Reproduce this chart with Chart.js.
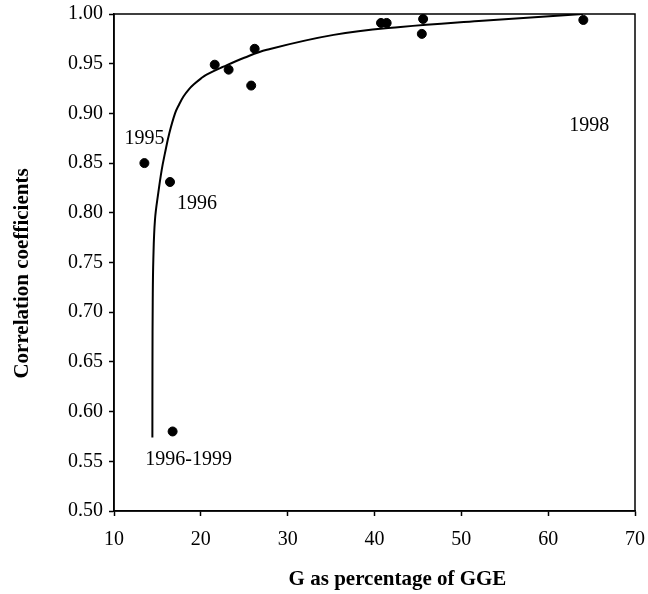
<!DOCTYPE html>
<html>
<head>
<meta charset="utf-8">
<script src="https://cdn.jsdelivr.net/npm/chart.js@4"></script>
<style>
  body { margin: 0; background: #fff; }
  #wrap { width: 648px; height: 594px; }
</style>
</head>
<body>
<div id="wrap"><canvas id="corrChart" width="648" height="594"></canvas></div>
<script>
// observed points (G as % of GGE, correlation coefficient)
const pointsX = [13.5, 16.45, 21.6, 23.2, 25.8, 26.2, 40.75, 41.4, 45.6, 45.45, 64.05, 16.75];
const pointsY = [0.850, 0.831, 0.949, 0.944, 0.928, 0.965, 0.991, 0.991, 0.995, 0.980, 0.994, 0.580];

// fitted curve
const curveX = [14.42, 14.43, 14.46, 14.53, 14.72, 15.1, 15.49, 15.87, 16.37, 17.03, 17.5, 18.0, 18.6, 19.3, 20.0, 20.66, 22.6, 25.0, 27.6, 35.3, 43.0, 52.0, 64.0];
const curveY = [0.574, 0.650, 0.710, 0.753, 0.793, 0.820, 0.843, 0.860, 0.880, 0.900, 0.909, 0.917, 0.924, 0.930, 0.935, 0.939, 0.947, 0.956, 0.964, 0.979, 0.987, 0.993, 1.000];

// year labels and the point each one belongs to
const yearLabels = ['1995', '1996', '1996-1999', '1998'];
const labelPoint = [0, 1, 11, 10];
const labelOffset = [[0, -24], [27, 22], [16, 28], [6, 106]]; // px from the point

const xTitle = 'G as percentage of GGE';
const yTitle = 'Correlation coefficients';

const serif = "'Liberation Serif', 'Times New Roman', serif";

const frame = {
  id: 'frame',
  afterDraw(chart) {
    const { ctx, chartArea: a, scales } = chart;
    ctx.save();
    ctx.strokeStyle = '#000';
    ctx.lineWidth = 1.5;
    ctx.strokeRect(a.left, a.top, a.right - a.left, a.bottom - a.top);
    ctx.fillStyle = '#000';
    ctx.font = '20px ' + serif;
    ctx.textAlign = 'center';
    ctx.textBaseline = 'middle';
    yearLabels.forEach((t, i) => {
      const k = labelPoint[i];
      const x = scales.x.getPixelForValue(pointsX[k]) + labelOffset[i][0];
      const y = scales.y.getPixelForValue(pointsY[k]) + labelOffset[i][1];
      ctx.fillText(t, x, y);
    });
    // axis titles sit a little off-centre in the original
    ctx.font = 'bold 21px ' + serif;
    ctx.fillText(xTitle, (a.left + a.right) / 2 + 23, 580);
    ctx.translate(23, (a.top + a.bottom) / 2 + 11);
    ctx.rotate(-Math.PI / 2);
    ctx.fillText(yTitle, 0, 0);
    ctx.restore();
  }
};

new Chart(document.getElementById('corrChart'), {
  type: 'scatter',
  data: {
    datasets: [
      {
        label: 'fit',
        data: curveX.map((x, i) => ({ x, y: curveY[i] })),
        showLine: true,
        borderColor: '#000',
        borderWidth: 2,
        pointRadius: 0,
        tension: 0.4
      },
      {
        label: 'points',
        data: pointsX.map((x, i) => ({ x, y: pointsY[i] })),
        backgroundColor: '#000',
        borderColor: '#000',
        pointRadius: 4.5
      }
    ]
  },
  options: {
    responsive: false,
    animation: false,
    layout: { padding: { top: 14, right: 13, left: 0, bottom: 0 } },
    plugins: {
      legend: { display: false },
      tooltip: { enabled: false }
    },
    scales: {
      x: {
        type: 'linear',
        min: 10,
        max: 70,
        afterFit: s => { s.height = 83; s.paddingLeft = 0; s.paddingRight = 0; },
        ticks: { stepSize: 10, color: '#000', padding: 12, font: { family: serif, size: 20 } },
        grid: { drawOnChartArea: false, tickLength: 5, color: '#000', tickWidth: 1.5 },
        border: { color: '#000', width: 1.5 }
      },
      y: {
        min: 0.5,
        max: 1.0,
        afterFit: s => { s.width = 114; s.paddingTop = 0; s.paddingBottom = 0; },
        ticks: {
          stepSize: 0.05,
          color: '#000',
          padding: 6,
          font: { family: serif, size: 20 },
          callback: v => v.toFixed(2)
        },
        grid: { drawOnChartArea: false, tickLength: 5, color: '#000', tickWidth: 1.5 },
        border: { color: '#000', width: 1.5 }
      }
    }
  },
  plugins: [frame]
});
</script>
</body>
</html>
